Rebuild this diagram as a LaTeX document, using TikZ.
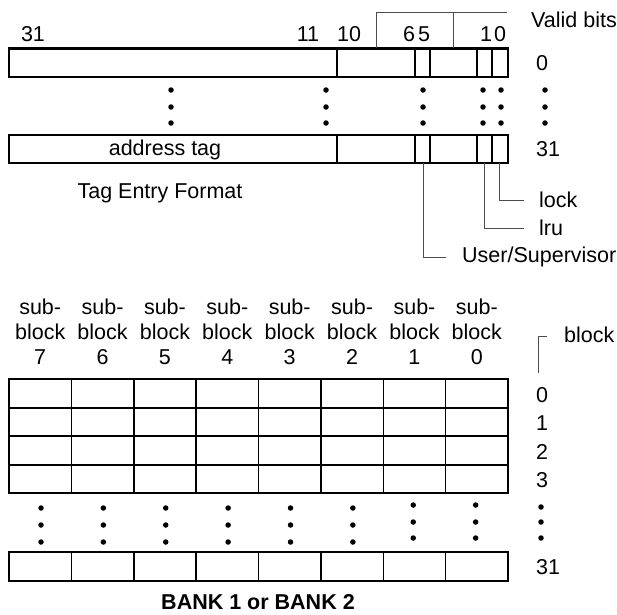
\documentclass[tikz,border=0pt]{standalone}
\usepackage{fontspec}
\setmainfont{Liberation Sans}
\begin{document}
\begin{tikzpicture}[x=1pt,y=-1pt,
  font=\fontsize{21.5}{25}\selectfont,
  outer/.style={line width=2.5pt},
  inner/.style={line width=1.5pt},
  leader/.style={line width=0.9pt, black!70},
  lbl/.style={inner sep=0pt, anchor=center},
  wlbl/.style={inner sep=0pt, anchor=west},
  dot/.style={circle, fill, inner sep=0pt, minimum size=5.5pt}]
\useasboundingbox (0,0) rectangle (617,614);

% ---------- Tag entry registers ----------
\foreach \t/\b/\n in {48.5/77/ra, 135/163/rb}{
  \foreach \x in {337,415,430,477,492}{
    \draw[inner] (\x,\t) -- (\x,\b);
  }
  \draw[outer] (9,\t) rectangle (508,\b);
}

% bit numbers
\node[lbl] (b31) at (33,34) {31};
\node[lbl] (b11) at (308,34) {11};
\node[lbl] (b10) at (349,34) {10};
\node[lbl] (b6)  at (409,34) {6};
\node[lbl] (b5)  at (424,34) {5};
\node[lbl] (b1)  at (486,34) {1};
\node[lbl] (b0)  at (500,34) {0};

% valid bits bracket
\coordinate (vA) at (376,47.5);
\coordinate (vB) at (453,47.5);
\coordinate (vC) at (507,12);
\draw[leader] (vA) |- (vC);
\draw[leader] (vB) -- (vB |- vC);
\node[wlbl] (valid) at (531,20) {Valid bits};

% entry numbers
\node[lbl] (e0)  at (542,63) {0};
\node[lbl] (e31) at (548,149) {31};

% dots
\foreach \x [count=\i] in {171,326,423,483,501,545}{
  \foreach \y [count=\j] in {90,107,123}{
    \node[dot] (td\i-\j) at (\x,\y) {};
  }
}

\node[lbl] (addr) at (165,150) {address tag};
\node[lbl] (fmt) at (160,193) {Tag Entry Format};

% leaders
\coordinate (lk) at (499,163);
\coordinate (lr) at (484,163);
\coordinate (us) at (423,163);
\node[wlbl] (lock) at (539,200) {lock};
\node[wlbl] (lru)  at (539,228) {lru};
\node[wlbl] (user) at (462,257) {User/Supervisor};
\draw[leader] (lk) |- ([xshift=-15pt]lock.west);
\draw[leader] (lr) |- ([xshift=-15pt]lru.west);
\draw[leader] (us) |- ([xshift=-16pt]user.west);

% ---------- Bank ----------
\def\gl{9}\def\gr{508}
\foreach \t/\b in {379/493, 552/581}{
  \foreach \i in {1,...,7}{
    \draw[inner] ({\gl+\i*62.375},\t) -- ({\gl+\i*62.375},\b);
  }
}
\foreach \y in {408,436,465}{
  \draw[inner] (\gl,\y) -- (\gr,\y);
}
\draw[outer] (\gl,379) rectangle (\gr,493);
\draw[outer] (\gl,552) rectangle (\gr,581);

% column headings
\foreach \k [count=\i from 0] in {7,6,5,4,3,2,1,0}{
  \node[lbl, align=center] (sb\k) at ({\gl+31.2+\i*62.375},332) {sub-\\block\\\k};
}

% bank dots
\foreach \i in {0,...,5}{
  \foreach \y [count=\j] in {508,525,542}{
    \node[dot] (gd\i-\j) at ({\gl+32+\i*62.375},\y) {};
  }
}
\foreach \i in {6,7}{
  \foreach \y [count=\j] in {505,522,538}{
    \node[dot] (gd\i-\j) at ({\gl+30+\i*62.375},\y) {};
  }
}
\foreach \y [count=\j] in {507,522,538}{
  \node[dot] (rd\j) at (541,\y) {};
}

% block numbers
\node[lbl] (k0) at (542,395) {0};
\node[lbl] (k1) at (542,423) {1};
\node[lbl] (k2) at (542,452) {2};
\node[lbl] (k3) at (542,480) {3};
\node[lbl] (k31) at (548,567) {31};

\node[wlbl] (blk) at (564,335) {block};
\coordinate (bk) at (538,373);
\draw[leader] (bk) |- (547,336);

\node[lbl, font=\fontsize{21.5}{25}\selectfont\bfseries] (bank) at (258,602) {BANK 1 or BANK 2};
\end{tikzpicture}
\end{document}
